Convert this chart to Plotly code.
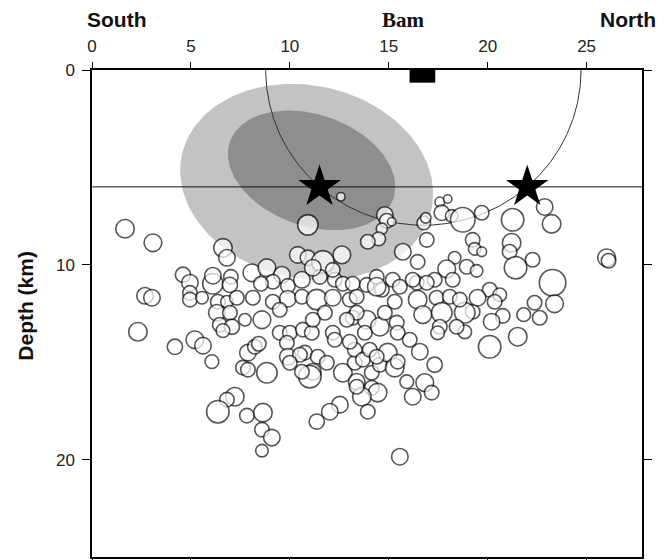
import numpy as np
import plotly.graph_objects as go

# ---------------- data ----------------
# aftershock hypocentres: horizontal distance along profile (km), depth (km), magnitude
dist_km = [
    1.67, 3.08, 2.68, 3.03, 2.32, 4.19, 5.20, 5.61, 6.06, 6.62,
    6.82, 4.60, 4.95, 4.95, 4.95, 5.56, 6.11, 6.11, 7.02, 6.97,
    6.36, 6.82, 7.32, 8.13, 8.08, 8.84, 9.60, 9.14, 8.54, 9.90,
    9.90, 10.61, 10.61, 9.14, 9.49, 6.31, 6.97, 6.46, 7.07, 7.73,
    6.62, 8.59, 9.49, 10.00, 10.40, 10.91, 11.67, 12.63, 11.52, 12.27,
    12.68, 13.18, 13.89, 14.39, 14.65, 11.36, 12.17, 13.03, 13.38, 10.66,
    11.11, 9.85, 11.77, 11.16, 13.18, 13.89, 14.55, 15.40, 12.17, 13.79,
    15.45, 12.27, 13.38, 12.88, 12.58, 14.80, 14.90, 15.15, 14.65, 14.49,
    13.94, 10.91, 16.77, 16.87, 16.92, 15.71, 17.58, 17.98, 17.68, 18.18,
    18.74, 19.70, 21.26, 19.24, 19.34, 19.70, 21.21, 21.11, 21.41, 16.46,
    18.33, 17.93, 18.94, 19.44, 22.88, 23.23, 22.27, 26.01, 26.11, 23.28,
    22.37, 23.38, 22.63, 21.82, 21.52, 20.10, 20.10, 20.61, 20.35, 20.76,
    20.20, 18.84, 19.24, 18.84, 17.32, 16.41, 15.20, 15.56, 17.42, 18.08,
    18.59, 19.49, 16.46, 15.30, 14.80, 16.06, 16.72, 17.68, 17.58, 17.47,
    18.43, 16.21, 14.39, 18.23, 10.76, 11.41, 11.87, 11.16, 11.01, 12.68,
    13.28, 13.28, 13.69, 14.14, 14.55, 14.95, 15.30, 15.45, 16.57, 17.32,
    13.38, 14.14, 14.44, 13.64, 15.91, 16.82, 17.17, 16.21, 12.53, 12.02,
    11.36, 13.94, 15.56, 13.03, 14.04, 7.88, 8.23, 8.43, 7.63, 7.88,
    8.84, 9.90, 10.51, 10.61, 7.22, 6.82, 6.36, 7.83, 8.64, 8.59,
    9.09, 8.59, 11.16, 10.00, 12.17, 14.39, 13.38, 16.92,
]
depth_km = [
    8.15, 8.87, 11.59, 11.69, 13.44, 14.21, 13.85, 14.15, 14.97, 9.13,
    9.64, 10.51, 10.92, 11.44, 11.79, 11.69, 10.97, 10.56, 10.62, 11.03,
    11.90, 11.90, 11.69, 11.69, 10.41, 10.15, 10.51, 10.87, 10.97, 11.08,
    11.74, 10.77, 11.64, 11.90, 12.31, 12.46, 12.46, 13.08, 13.18, 12.82,
    13.38, 12.82, 13.49, 13.49, 9.49, 9.64, 9.85, 9.49, 10.62, 10.77,
    10.97, 10.97, 11.03, 10.62, 11.28, 11.79, 11.69, 11.79, 11.64, 13.33,
    13.49, 14.00, 12.46, 12.82, 12.72, 12.82, 13.18, 12.97, 13.49, 13.49,
    13.49, 13.85, 12.46, 12.82, 6.51, 7.44, 7.74, 7.79, 8.15, 8.67,
    8.82, 7.95, 7.85, 7.59, 8.72, 9.33, 6.77, 6.62, 7.33, 7.49,
    7.69, 7.33, 7.69, 8.72, 9.18, 9.33, 8.87, 9.33, 10.15, 9.85,
    9.64, 10.21, 10.10, 10.31, 7.03, 7.90, 9.74, 9.64, 9.79, 10.92,
    11.95, 12.00, 12.72, 12.56, 13.69, 14.21, 11.28, 11.54, 11.90, 12.62,
    12.92, 13.44, 12.41, 12.46, 10.77, 10.92, 10.77, 11.13, 11.69, 11.64,
    11.79, 11.69, 11.79, 11.90, 12.46, 13.85, 12.56, 12.46, 13.18, 13.49,
    13.18, 10.77, 11.13, 10.77, 14.51, 14.72, 15.03, 15.49, 15.74, 15.54,
    15.03, 14.36, 14.87, 15.54, 15.13, 14.51, 15.28, 14.97, 14.46, 15.13,
    16.00, 16.31, 16.56, 16.77, 16.00, 16.05, 16.56, 16.77, 17.18, 17.54,
    18.05, 17.54, 19.85, 13.95, 14.36, 14.51, 14.21, 14.05, 15.28, 15.38,
    15.54, 14.72, 14.62, 15.49, 16.77, 16.92, 17.54, 17.74, 17.59, 18.46,
    18.87, 19.54, 10.15, 15.03, 10.26, 14.72, 16.26, 10.92,
]
magnitude = [
    2.5, 2.4, 2.25, 2.25, 2.5, 2.1, 2.4, 2.25, 1.9, 2.5,
    2.25, 2.1, 2.25, 2.0, 2.0, 1.75, 2.75, 2.25, 2.0, 2.1,
    2.0, 1.75, 2.0, 2.0, 2.4, 2.4, 2.25, 2.0, 2.0, 2.0,
    2.25, 2.25, 2.0, 2.0, 2.0, 2.25, 2.0, 2.0, 2.1, 1.75,
    1.9, 2.4, 2.0, 2.0, 2.25, 2.1, 3.0, 2.4, 2.0, 2.0,
    2.0, 2.0, 2.0, 2.0, 2.0, 2.75, 2.25, 2.0, 2.0, 2.0,
    2.0, 2.0, 2.0, 2.0, 2.0, 2.5, 2.5, 2.0, 2.0, 2.0,
    2.0, 2.0, 2.0, 2.0, 1.25, 2.25, 2.0, 1.25, 1.6, 1.9,
    2.0, 2.75, 1.9, 1.5, 2.0, 2.25, 1.4, 1.25, 2.1, 1.75,
    3.25, 2.0, 3.0, 2.0, 1.75, 1.4, 2.5, 2.0, 3.0, 2.0,
    1.75, 2.4, 2.0, 1.75, 2.25, 2.5, 2.0, 2.4, 2.0, 3.5,
    2.0, 2.4, 2.0, 1.9, 2.5, 3.0, 2.0, 1.9, 2.0, 2.0,
    2.25, 1.9, 2.0, 2.75, 2.0, 2.0, 2.0, 2.0, 2.0, 2.0,
    2.0, 2.25, 2.5, 2.0, 2.0, 2.0, 2.4, 2.75, 2.0, 1.9,
    2.0, 2.0, 2.5, 2.0, 2.0, 2.0, 2.0, 2.25, 3.0, 2.5,
    2.0, 2.0, 2.0, 2.0, 2.0, 2.5, 2.5, 2.0, 2.25, 2.1,
    2.25, 2.0, 2.5, 2.5, 1.9, 2.4, 2.0, 2.25, 2.25, 2.25,
    2.1, 2.0, 2.25, 2.0, 2.0, 2.25, 2.0, 2.0, 2.0, 2.0,
    2.75, 2.25, 2.0, 2.0, 2.5, 2.0, 3.0, 2.0, 2.5, 2.0,
    2.25, 1.75, 2.25, 2.0, 2.0, 2.0, 2.0, 2.0,
]

# main-shock hypocentre solutions (stars)
star_dist = [11.5, 22.0]
star_depth = [6.0, 6.0]

# Bam city location on the profile
bam_dist = 16.7
bam_halfwidth = 0.65
bam_bar_depth = 0.65

# reference depth line and equal-distance arc around Bam
ref_depth = 6.0
arc_radius = 7.97

# confidence regions (centre x, centre depth, semi-major, semi-minor, tilt deg)
outer_region = (10.85, 5.75, 6.46, 4.95, 13.0)
inner_region = (11.1, 5.15, 4.38, 2.85, 20.0)

x_ticks = [0, 5, 10, 15, 20, 25]
y_ticks = [0, 10, 20]
x_max = 27.8
y_max = 25.0

# ---------------- figure ----------------
def ellipse(params, n=200):
    cx, cy, a, b, ang = params
    t = np.linspace(0, 2 * np.pi, n)
    th = np.deg2rad(ang)
    x = cx + a * np.cos(t) * np.cos(th) - b * np.sin(t) * np.sin(th)
    y = cy + a * np.cos(t) * np.sin(th) + b * np.sin(t) * np.cos(th)
    return x, y

fig = go.Figure()

for params, col in [(outer_region, "#c3c3c3"), (inner_region, "#8e8e8e")]:
    ex, ey = ellipse(params)
    fig.add_trace(go.Scatter(x=ex, y=ey, mode="lines", fill="toself",
                             fillcolor=col, line=dict(width=0),
                             hoverinfo="skip", showlegend=False))

# arc around Bam
t = np.linspace(0, np.pi, 300)
fig.add_trace(go.Scatter(x=bam_dist + 0.05 + arc_radius * np.cos(t),
                         y=arc_radius * np.sin(t), mode="lines",
                         line=dict(color="#333333", width=1),
                         hoverinfo="skip", showlegend=False))

# reference depth line
fig.add_trace(go.Scatter(x=[0, x_max], y=[ref_depth, ref_depth], mode="lines",
                         line=dict(color="#111111", width=1),
                         hoverinfo="skip", showlegend=False))

# Bam marker
fig.add_shape(type="rect", x0=bam_dist - bam_halfwidth, x1=bam_dist + bam_halfwidth,
              y0=0, y1=bam_bar_depth, fillcolor="black", line=dict(width=0))

# aftershocks
sizes = [8 * m - 1.5 for m in magnitude]
fig.add_trace(go.Scatter(x=dist_km, y=depth_km, mode="markers",
                         marker=dict(size=sizes, color="white",
                                     line=dict(color="#111111", width=1.6)),
                         showlegend=False))

# stars
fig.add_trace(go.Scatter(x=star_dist, y=star_depth, mode="markers",
                         marker=dict(symbol="star", size=32, color="black",
                                     line=dict(width=0)),
                         showlegend=False))

tickfont = dict(family="Liberation Sans, Arial, sans-serif", size=17, color="#222222")

fig.update_xaxes(range=[0, x_max], side="top", tickvals=x_ticks, ticks="outside",
                 ticklen=6, tickwidth=1, tickcolor="black", mirror="ticks",
                 showline=True, linecolor="black", linewidth=1.5,
                 showgrid=False, zeroline=False, tickfont=tickfont,
                 ticklabelstandoff=3, automargin=False)
fig.update_yaxes(range=[y_max, 0], tickvals=y_ticks, ticks="outside",
                 ticklen=8, tickwidth=1, tickcolor="black", mirror="ticks",
                 showline=True, linecolor="black", linewidth=1.5,
                 showgrid=False, zeroline=False, tickfont=tickfont,
                 ticklabelstandoff=4, automargin=False)

labfont = dict(family="Liberation Sans Narrow, Liberation Sans, Arial", size=21, color="#111111")
fig.add_annotation(text="<b>South</b>", x=-0.013, y=1.103, xref="paper", yref="paper",
                   xanchor="left", yanchor="middle", showarrow=False, font=labfont)
fig.add_annotation(text="<b>North</b>", x=0.92, y=1.103, xref="paper", yref="paper",
                   xanchor="left", yanchor="middle", showarrow=False, font=labfont)
fig.add_annotation(text="<b>Bam</b>", x=0.567, y=1.103, xref="paper", yref="paper",
                   xanchor="center", yanchor="middle", showarrow=False,
                   font=dict(family="Liberation Serif, Times New Roman, serif", size=21, color="#111111"))
fig.add_annotation(text="<b>Depth (km)</b>", x=-0.12, y=0.516, xref="paper", yref="paper",
                   xanchor="center", yanchor="middle", textangle=-90, showarrow=False,
                   font=dict(family="Liberation Sans Narrow, Liberation Sans, Arial", size=21, color="#111111"))

# the page body adds an 8 px offset, so margins are set 8 px smaller at left/top
fig.update_layout(width=667, height=560, margin=dict(l=84, r=33, t=62, b=11),
                  plot_bgcolor="white", paper_bgcolor="white")

fig.write_html("out.html")
